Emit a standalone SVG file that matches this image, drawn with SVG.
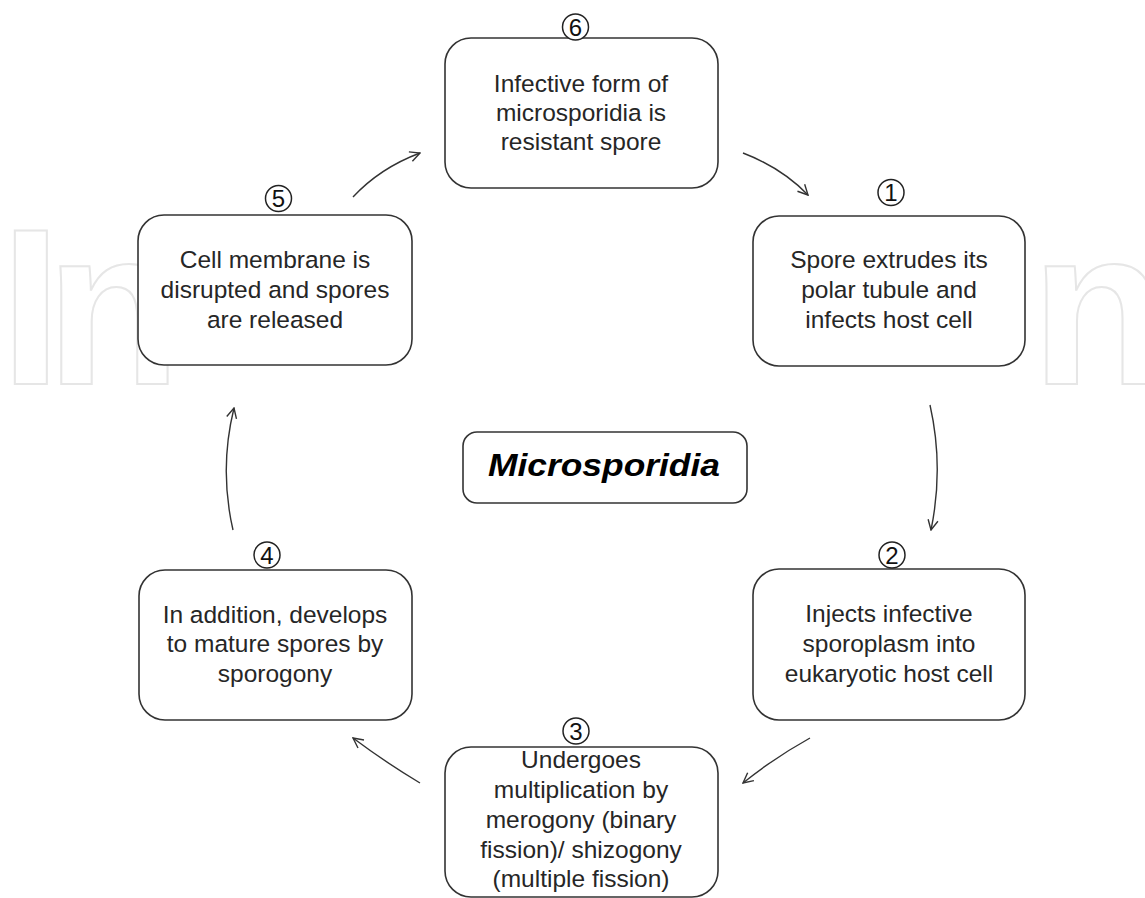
<svg xmlns="http://www.w3.org/2000/svg" width="1145" height="898" viewBox="0 0 1145 898">
<defs>
<style>
.box{fill:#fff;stroke:#333;stroke-width:1.6}
.t{font-family:"Liberation Sans",Arial,sans-serif;font-size:24.5px;fill:#262626;text-anchor:middle}
.num{font-family:"Liberation Sans",Arial,sans-serif;font-size:24px;fill:#111;text-anchor:middle}
.circ{fill:#fff;stroke:#222;stroke-width:1.5}
.wm{font-family:"Liberation Sans",Arial,sans-serif;font-weight:bold;font-size:222px;fill:none;stroke:#e6e6e6;stroke-width:2}
.arr{fill:none;stroke:#333;stroke-width:1.4;marker-end:url(#ah)}
</style>
<marker id="ah" viewBox="0 0 12 12" refX="11" refY="6" markerWidth="12" markerHeight="12" markerUnits="userSpaceOnUse" orient="auto">
<path d="M1,1 L11,6 L1,11" fill="none" stroke="#333" stroke-width="1.4"/>
</marker>
</defs>
<rect width="1145" height="898" fill="#fff"/>
<g id="watermark">
<text class="wm" x="0" y="384">I<tspan dx="-16">n</tspan></text>
<text class="wm" x="1031" y="384">n</text>
</g>
<g id="connectors">
<path class="arr" d="M353,197 Q380,168 420,153"/>
<path class="arr" d="M743,153 Q782,168 808,195"/>
<path class="arr" d="M930,405 Q944,467 931,530"/>
<path class="arr" d="M810,738 Q774,758 743,783"/>
<path class="arr" d="M420,783 Q385,762 353,738"/>
<path class="arr" d="M233,530 Q219,469 234,408"/>
</g>
<g id="node6">
<rect class="box" x="445" y="38" width="273" height="150" rx="26"/>
<circle class="circ" cx="575.5" cy="27" r="13"/>
<text class="num" x="575.5" y="35.5">6</text>
<text class="t" x="581" y="92">Infective form of</text>
<text class="t" x="581" y="121">microsporidia is</text>
<text class="t" x="581" y="150">resistant spore</text>
</g>
<g id="node1">
<rect class="box" x="753" y="216" width="272" height="150" rx="26"/>
<circle class="circ" cx="891" cy="192.5" r="13"/>
<text class="num" x="891" y="201">1</text>
<text class="t" x="889" y="268">Spore extrudes its</text>
<text class="t" x="889" y="298">polar tubule and</text>
<text class="t" x="889" y="328">infects host cell</text>
</g>
<g id="node2">
<rect class="box" x="753" y="569" width="272" height="151" rx="26"/>
<circle class="circ" cx="892" cy="555" r="13"/>
<text class="num" x="892" y="563.5">2</text>
<text class="t" x="889" y="622">Injects infective</text>
<text class="t" x="889" y="652">sporoplasm into</text>
<text class="t" x="889" y="682">eukaryotic host cell</text>
</g>
<g id="node3">
<rect class="box" x="445" y="747" width="273" height="150" rx="26"/>
<circle class="circ" cx="576" cy="731" r="13"/>
<text class="num" x="576" y="739.5">3</text>
<text class="t" x="581" y="768">Undergoes</text>
<text class="t" x="581" y="798">multiplication by</text>
<text class="t" x="581" y="828">merogony (binary</text>
<text class="t" x="581" y="858">fission)/ shizogony</text>
<text class="t" x="581" y="887">(multiple fission)</text>
</g>
<g id="node4">
<rect class="box" x="139" y="570" width="273" height="150" rx="26"/>
<circle class="circ" cx="267" cy="555" r="13"/>
<text class="num" x="267" y="563.5">4</text>
<text class="t" x="275" y="623">In addition, develops</text>
<text class="t" x="275" y="652">to mature spores by</text>
<text class="t" x="275" y="682">sporogony</text>
</g>
<g id="node5">
<rect class="box" x="138" y="215" width="274" height="150" rx="26"/>
<circle class="circ" cx="278.5" cy="198.5" r="13"/>
<text class="num" x="278.5" y="207">5</text>
<text class="t" x="275" y="268">Cell membrane is</text>
<text class="t" x="275" y="298">disrupted and spores</text>
<text class="t" x="275" y="328">are released</text>
</g>
<g id="center">
<rect class="box" x="463" y="432" width="284" height="71" rx="14"/>
<text x="604" y="476" font-family="Liberation Sans,Arial,sans-serif" font-size="31" font-weight="bold" font-style="italic" fill="#000" text-anchor="middle" textLength="232" lengthAdjust="spacingAndGlyphs">Microsporidia</text>
</g>
</svg>
